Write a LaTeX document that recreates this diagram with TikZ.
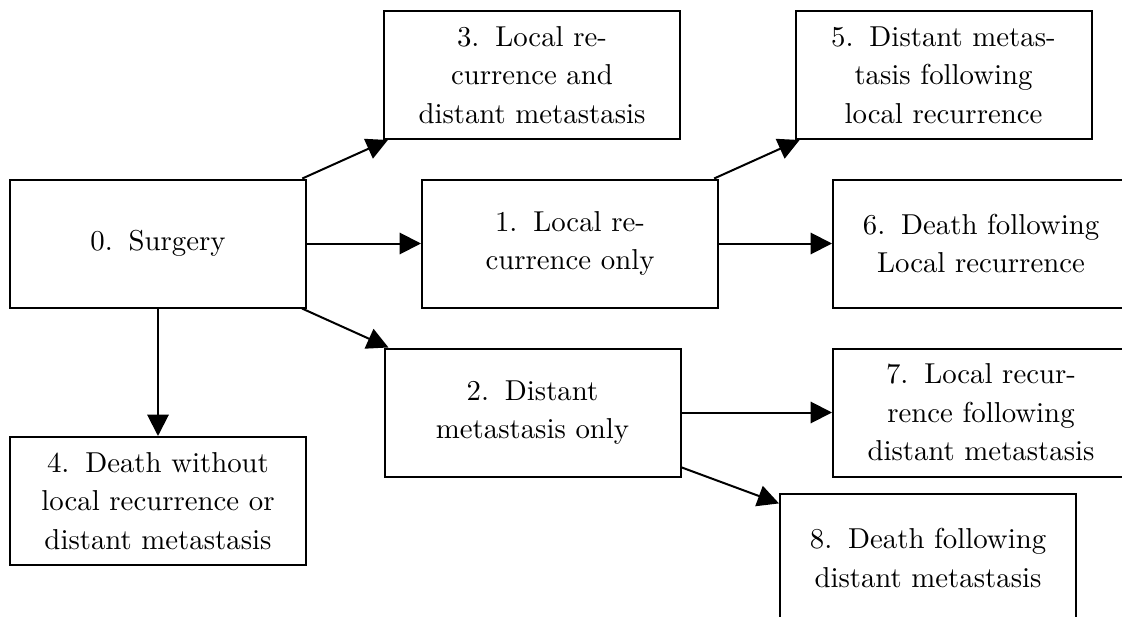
\documentclass[tikz,border=0pt]{standalone}
\usepackage{fontspec}
\newfontfamily\lmten{lmroman10-regular}[Extension=.otf]
\usetikzlibrary{arrows.meta}
\newcommand{\nsp}{\hspace{0.55em}}
\begin{document}
\begin{tikzpicture}[x=0.75pt,y=-0.75pt,
  stbox/.style={draw, line width=1.5pt, minimum width=222pt, minimum height=96pt,
    inner sep=0pt, align=center, font=\lmten\fontsize{21.6}{28.9}\selectfont},
  conn/.style={line width=1.5pt, -{Triangle[length=16pt,width=16pt]}}]
\useasboundingbox (0,0) rectangle (1122,617);
\node[stbox] (n0) at (158,243.5) {0.\nsp Surgery};
\node[stbox] (n3) at (532,75) {3.\nsp Local re-\\currence and\\distant metastasis};
\node[stbox] (n1) at (570,243.5) {1.\nsp Local re-\\currence only};
\node[stbox] (n5) at (943.5,75) {5.\nsp Distant metas-\\tasis following\\local recurrence};
\node[stbox] (n6) at (981,243.5) {6.\nsp Death following\\Local recurrence};
\node[stbox] (n2) at (532.5,412.5) {2.\nsp Distant\\metastasis only};
\node[stbox] (n7) at (981,412.5) {7.\nsp Local recur-\\rence following\\distant metastasis};
\node[stbox] (n8) at (928,558) {8.\nsp Death following\\distant metastasis};
\node[stbox] (n4) at (158,501) {4.\nsp Death without\\local recurrence or\\distant metastasis};
\draw[conn] (n0) -- (n3);
\draw[conn] (n0) -- (n1);
\draw[conn] (n0) -- (n2);
\draw[conn] (n0) -- (n4);
\draw[conn] (n1) -- (n5);
\draw[conn] (n1) -- (n6);
\draw[conn] (n2) -- (n7);
\draw[conn] (n2) -- (n8);
\end{tikzpicture}
\end{document}
